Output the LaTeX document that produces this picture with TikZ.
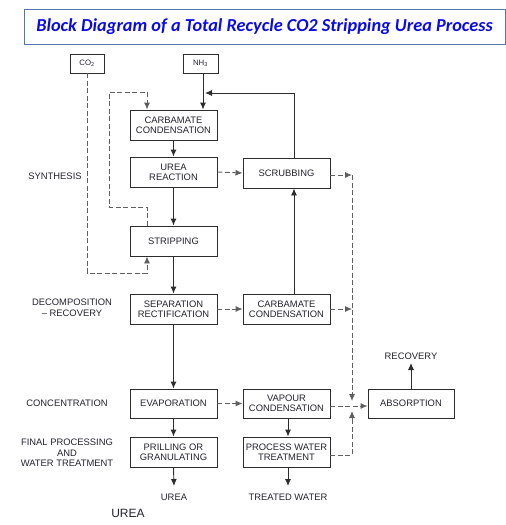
\documentclass[tikz,border=0pt]{standalone}
\usepackage{fontspec}
\setmainfont{Liberation Sans}
\newfontfamily\titlefont{Carlito}
\usetikzlibrary{arrows.meta}
\definecolor{titleblue}{RGB}{10,10,230}
\definecolor{framecol}{RGB}{84,120,170}
\definecolor{linecol}{RGB}{45,45,45}
\definecolor{dashcol}{RGB}{95,95,95}
\definecolor{txtcol}{RGB}{35,35,45}
\tikzset{
  blk/.style={draw=linecol, line width=0.9pt, minimum width=87pt, minimum height=30pt, inner sep=0pt, align=center, font=\fontsize{9.4}{10.2}\selectfont, text=txtcol},
  small/.style={draw=linecol, line width=0.9pt, minimum width=34pt, minimum height=19pt, inner sep=0pt, font=\fontsize{7.8}{9}\selectfont, text=txtcol},
  lbl/.style={align=center, inner sep=0pt, font=\fontsize{9.4}{10.5}\selectfont, text=txtcol},
  solidarr/.style={draw=linecol, line width=0.9pt, -{Latex[length=7pt,width=6pt]}},
  dasharr/.style={draw=dashcol, line width=0.9pt, dash pattern=on 5pt off 2.5pt, -{Latex[length=7pt,width=6pt]}},
  dashln/.style={draw=dashcol, line width=0.9pt, dash pattern=on 5pt off 2.5pt},
}
\begin{document}
\begin{tikzpicture}[x=1pt,y=-1pt]
\useasboundingbox (0,0) rectangle (506,525);
% title
\draw[framecol, line width=1pt] (24,9) rectangle (505,44);
\node[font=\titlefont\bfseries\itshape\fontsize{18.3}{20}\selectfont, text=titleblue, inner sep=0pt] (title) at (264.5,27) {Block Diagram of a Total Recycle CO2 Stripping Urea Process};
% blocks
\node[small] (co2) at (87,63.5) {CO\textsubscript{2}};
\node[small, minimum width=35pt] (nh3) at (200.5,63.5) {NH\textsubscript{3}};
\node[blk] (cc1) at (173.5,125) {CARBAMATE\\CONDENSATION};
\node[blk] (urea) at (173.5,172) {UREA\\REACTION};
\node[blk] (scrub) at (286.5,173) {SCRUBBING};
\node[blk] (strip) at (173.5,241) {STRIPPING};
\node[blk] (sep) at (173.5,309) {SEPARATION\\RECTIFICATION};
\node[blk] (cc2) at (286.5,309) {CARBAMATE\\CONDENSATION};
\node[blk, minimum height=29pt] (evap) at (173.5,403.5) {EVAPORATION};
\node[blk, minimum height=29pt] (vap) at (286.5,403.5) {VAPOUR\\CONDENSATION};
\node[blk] (prill) at (173.5,452) {PRILLING OR\\GRANULATING};
\node[blk] (pwt) at (286.5,452) {PROCESS WATER\\TREATMENT};
\node[blk, minimum width=86pt, minimum height=29pt] (absn) at (411,403.5) {ABSORPTION};
% side labels
\node[lbl] (l1) at (55,176) {SYNTHESIS};
\node[lbl] (l2) at (72,308) {DECOMPOSITION\\– RECOVERY};
\node[lbl] (l3) at (67,403) {CONCENTRATION};
\node[lbl] (l4) at (67,453) {FINAL PROCESSING\\AND\\WATER TREATMENT};
% outputs
\node[lbl] (oure) at (174,497) {UREA};
\node[lbl] (otw) at (288,497) {TREATED WATER};
\node[lbl] (orec) at (411,356) {RECOVERY};
\node[inner sep=0pt, font=\fontsize{12}{14}\selectfont, text=txtcol] (big) at (128,513) {UREA};
% coordinates
\coordinate (co2a) at (87,273);
\coordinate (co2b) at (147,273);
\coordinate (g1) at (147,207);
\coordinate (g2) at (109,207);
\coordinate (g3) at (109,92);
\coordinate (g4) at (147,92);
\coordinate (s1) at (294,93);
\coordinate (s2) at (205,93);
\coordinate (v1) at (352,175);
\coordinate (v2) at (352,401);
\coordinate (v2a) at (352,392);
\coordinate (v3) at (352,309);
\coordinate (v4) at (352,455);
\coordinate (v5) at (352,411);
\coordinate (v5a) at (352,420);
\coordinate (ab) at (352,406);
\coordinate (rec) at (411,363);
\coordinate (ou) at (174,486);
\coordinate (ot) at (288,486);
% CO2 feed
\draw[dasharr] (co2.south) -- (co2a) -- (co2b) -- (strip.south -| co2b);
% stripper off-gas
\draw[dasharr] (strip.north -| g1) -- (g1) -- (g2) -- (g3) -- (g4) -- (cc1.north -| g4);
% NH3 feed
\draw[solidarr] ([xshift=2.5pt]nh3.south) -- ([xshift=2.5pt]nh3.south |- cc1.north);
% scrubbing recycle
\draw[solidarr] (scrub.north -| s1) -- (s1) -- (s2);
% main column
\draw[solidarr] (cc1.south) -- (urea.north);
\draw[solidarr] (urea.south) -- (strip.north);
\draw[solidarr] (strip.south) -- (sep.north);
\draw[solidarr] (sep.south) -- (evap.north);
\draw[solidarr] (evap.south) -- (prill.north);
\draw[solidarr] (prill.south) -- (ou);
% dashed transfers
\draw[dasharr] (urea.east) -- (scrub.west);
\draw[dasharr] (sep.east) -- (cc2.west);
\draw[dasharr] (evap.east) -- (vap.west);
% right column
\draw[solidarr] (cc2.north -| s1) -- (scrub.south -| s1);
\draw[solidarr] ([xshift=1.5pt]vap.south) -- ([xshift=1.5pt]vap.south |- pwt.north);
\draw[solidarr] ([xshift=1.5pt]pwt.south) -- (ot);
% to absorption
\draw[dasharr] (scrub.east |- v1) -- (v1);
\draw[dashln] (v1) -- (v2a);
\draw[solidarr, draw=dashcol] (v2a) -- (v2);
\draw[dasharr] (cc2.east) -- (v3);
\draw[dasharr] (vap.east |- ab) -- (absn.west |- ab);
\draw[dashln] (pwt.east |- v4) -- (v4) -- (v5a);
\draw[solidarr, draw=dashcol] (v5a) -- (v5);
\draw[solidarr] (absn.north) -- (rec);
\end{tikzpicture}
\end{document}
